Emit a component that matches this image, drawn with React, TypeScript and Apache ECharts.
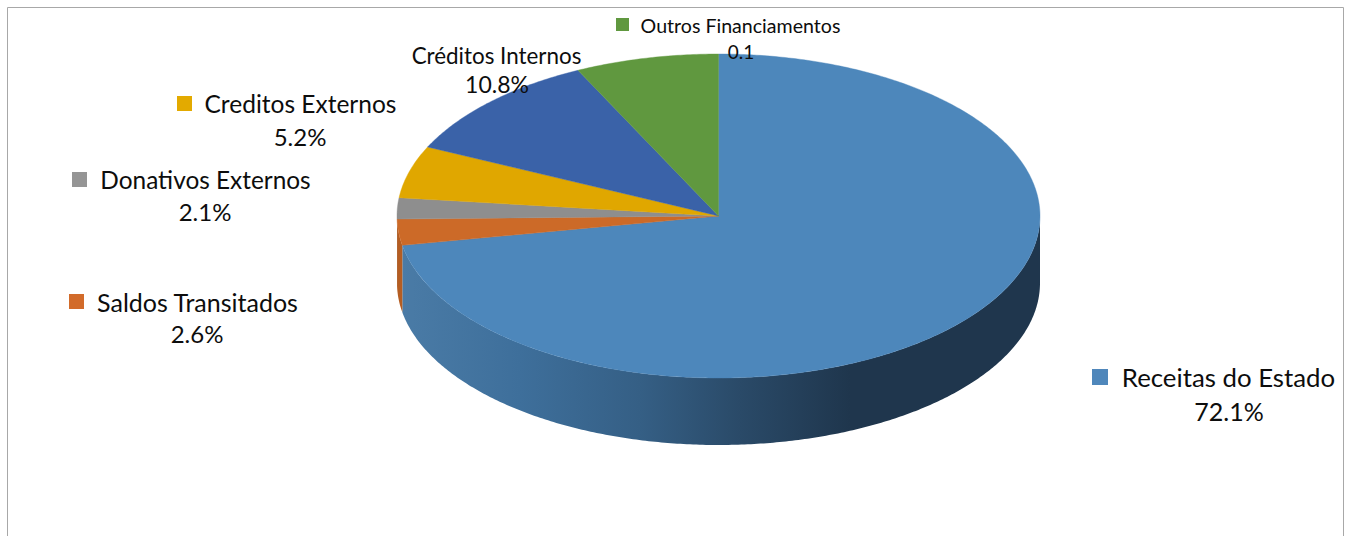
import React, { useEffect, useRef } from "react";
import * as echarts from "echarts";

const categories = ["Receitas do Estado", "Saldos Transitados", "Donativos Externos", "Creditos Externos", "Créditos Internos", "Outros Financiamentos"];
const sliceValues = [72.1, 2.6, 2.1, 5.2, 10.8, 7.2];
const valueLabels = ["72.1%", "2.6%", "2.1%", "5.2%", "10.8%", "0.1"];
const topColors = ["#4d87bb", "#cc6a28", "#8e8e8e", "#e0a700", "#3a62a8", "#60983f"];
const wallColors = ["#3d6c96", "#b45d22", "#747474", "#b58800", "#2f4f88", "#4c7a32"];
const legendColors = ["#4f87bb", "#d26b2a", "#959595", "#e3aa00", "#3a62a8", "#60983f"];

const CX = 718.5, CY = 216, RX = 321.5, RY = 162, DEPTH = 67;

// [nameCenterX, nameY, valueCenterX, valueY, nameFontSize, squareX, squareY, squareSize, valueFontSize]
const labelLayout = [
  [1228.5, 376.5, 1229, 410.5, 25.8, 1092, 369, 16, 25],
  [197.5, 301.5, 197, 333.5, 25, 69, 294, 15, 24],
  [205.5, 179.5, 205, 211.5, 24.4, 72, 172, 15, 24],
  [300.5, 103.5, 300, 136.5, 24.5, 177, 96, 15, 24],
  [496.5, 55, 497, 84, 22.4, -1, 0, 0, 23],
  [740.5, 25.5, 741, 51.5, 19.6, 616, 18, 13, 19],
];

const total = sliceValues.reduce((a, b) => a + b, 0);
const ranges = sliceValues.map((v, i) => {
  const before = sliceValues.slice(0, i).reduce((a, b) => a + b, 0);
  return [(before / total) * Math.PI * 2, ((before + v) / total) * Math.PI * 2];
});

const pt = (a: number, dy = 0) => [CX + RX * Math.sin(a), CY - RY * Math.cos(a) + dy];

const arcPoints = (a0: number, a1: number, dy = 0) => {
  const n = Math.max(2, Math.ceil((a1 - a0) / 0.01));
  const out: number[][] = [];
  for (let i = 0; i <= n; i++) out.push(pt(a0 + ((a1 - a0) * i) / n, dy));
  return out;
};

const X0 = pt(ranges[0][1])[0];
const wallFill = (i: number) =>
  i === 0
    ? new echarts.graphic.LinearGradient(0, 0, 1, 0, [
        { offset: 0, color: "#4a7ba6" },
        { offset: (520 - X0) / (CX + RX - X0), color: "#3e6f9b" },
        { offset: (640 - X0) / (CX + RX - X0), color: "#355f85" },
        { offset: (740 - X0) / (CX + RX - X0), color: "#2a4a68" },
        { offset: (850 - X0) / (CX + RX - X0), color: "#1f364d" },
        { offset: 1, color: "#1f364d" },
      ])
    : wallColors[i];

export default function App() {
  const ref = useRef<HTMLDivElement>(null);
  useEffect(() => {
    const chart = echarts.init(ref.current!, null, { renderer: "svg" });
    const graphics: any[] = [
      {
        type: "rect",
        silent: true,
        shape: { x: 7.5, y: 7.5, width: 1336, height: 620 },
        style: { fill: "#ffffff", stroke: "#a8a8a8", lineWidth: 1 },
        z: -10,
      },
    ];
    categories.forEach((name, i) => {
      const [nx, ny, vx, vy, fs, sx, sy, ss, vfs] = labelLayout[i];
      const font = { fontFamily: "Lato", fill: "#0d0d0d", textAlign: "center", textVerticalAlign: "middle" };
      if (sx >= 0) {
        graphics.push({
          type: "rect",
          silent: true,
          shape: { x: sx, y: sy, width: ss, height: ss },
          style: { fill: legendColors[i] },
          z: 20,
        });
      }
      graphics.push({ type: "text", silent: true, x: nx, y: ny, z: 20, style: { text: name, fontSize: fs, ...font } });
      graphics.push({ type: "text", silent: true, x: vx, y: vy, z: 20, style: { text: valueLabels[i], fontSize: vfs, ...font } });
    });

    chart.setOption({
      animation: false,
      graphic: graphics,
      series: [
        {
          type: "custom",
          coordinateSystem: "none",
          silent: true,
          z: 2,
          data: ranges,
          renderItem: (params: any) => {
            const i = params.dataIndex;
            const [a0, a1] = ranges[i];
            const lo = Math.max(a0, Math.PI / 2);
            const hi = Math.min(a1, (Math.PI * 3) / 2);
            if (hi <= lo) return { type: "group", children: [] };
            const top = arcPoints(lo, hi);
            const bottom = arcPoints(lo, hi, DEPTH).reverse();
            return {
              type: "polygon",
              shape: { points: [...top, ...bottom] },
              style: { fill: wallFill(i) },
            };
          },
        },
        {
          type: "custom",
          coordinateSystem: "none",
          silent: true,
          z: 3,
          data: ranges,
          renderItem: (params: any) => {
            const i = params.dataIndex;
            const [a0, a1] = ranges[i];
            return {
              type: "polygon",
              shape: { points: [[CX, CY], ...arcPoints(a0, a1)] },
              style: { fill: topColors[i], stroke: topColors[i], lineWidth: 0.4 },
            };
          },
        },
      ],
    });
    return () => chart.dispose();
  }, []);
  return <div ref={ref} style={{ position: "absolute", left: 0, top: 0, width: 1348, height: 536, background: "#ffffff" }} />;
}
